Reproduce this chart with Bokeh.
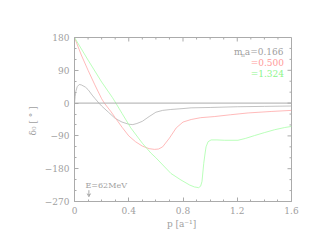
from bokeh.plotting import figure
from bokeh.models import Range1d, FixedTicker, Span, Arrow, VeeHead
from bokeh.core.properties import value
from bokeh.embed import file_html
from bokeh.resources import INLINE

# momentum p [1/a]
p_gray = [0, 0.005, 0.01, 0.02, 0.035, 0.05, 0.08, 0.1, 0.13, 0.15, 0.18, 0.2, 0.25, 0.3, 0.35, 0.4, 0.43, 0.46, 0.5, 0.55, 0.6, 0.65, 0.71, 0.8, 0.86, 1.0, 1.2, 1.4, 1.6]
d_gray = [0, 18, 32, 45, 51, 50, 44, 37, 22, 13, 0, -8, -25, -42, -52, -58, -59, -56, -50, -37, -25, -20, -17.5, -15, -13, -12, -10, -9, -8]

p_red = [0, 0.05, 0.1, 0.15, 0.2, 0.22, 0.27, 0.3, 0.35, 0.4, 0.45, 0.5, 0.55, 0.59, 0.62, 0.65, 0.7, 0.75, 0.8, 0.86, 0.93, 1.03, 1.15, 1.28, 1.45, 1.6]
d_red = [180, 132, 90, 50, 12, 0, -24, -40, -66, -90, -106, -118, -125, -127, -126, -120, -96, -68, -52, -45, -40, -37, -32, -27, -23, -20]

p_green = [0, 0.1, 0.2, 0.28, 0.3, 0.35, 0.415, 0.5, 0.563, 0.6, 0.711, 0.785, 0.85, 0.884, 0.915, 0.93, 0.94, 0.953, 0.962, 0.97, 0.985, 1.007, 1.05, 1.106, 1.205, 1.26, 1.328, 1.4, 1.476, 1.55, 1.6]
d_green = [180, 118, 58, 15, 3, -28, -68, -110, -137, -150, -193, -211, -225, -230, -232, -228, -215, -165, -140, -120, -106, -101, -101, -102, -102, -97, -89, -81, -73, -67, -64]

x_major = [0.0, 0.4, 0.8, 1.2, 1.6]
x_minor = [0.1, 0.2, 0.3, 0.5, 0.6, 0.7, 0.9, 1.0, 1.1, 1.3, 1.4, 1.5]
y_major = [-270, -180, -90, 0, 90, 180]
y_minor = [-240, -210, -150, -120, -60, -30, 30, 60, 120, 150]

GRAY = "#ababab"
CGRAY = "#b4b4b4"
RED = "#ffa8a8"
GREEN = "#a8ffa8"
TGRAY = "#a0a0a0"
TRED = "#ff9a9a"
TGREEN = "#8cf58c"
FONT = "DejaVu Serif"

X0, X1, Y0, Y1 = 0.0, 1.6, -270, 180
FW, FH = 217, 164  # frame size in px

p = figure(width=314, height=241, output_backend="svg", toolbar_location=None,
           x_range=Range1d(X0, X1), y_range=Range1d(Y0, Y1),
           min_border_left=74, min_border_right=23, min_border_top=37, min_border_bottom=40)
p.xgrid.visible = False
p.ygrid.visible = False
p.outline_line_color = GRAY
p.background_fill_color = "white"
p.border_fill_color = "white"

for ax in p.xaxis + p.yaxis:
    ax.axis_line_color = GRAY
    ax.major_tick_line_color = GRAY
    ax.minor_tick_line_color = GRAY
    ax.major_tick_in = 4
    ax.major_tick_out = 0
    ax.minor_tick_in = 2
    ax.minor_tick_out = 0
    ax.major_label_text_color = TGRAY
    ax.major_label_text_font = FONT
    ax.major_label_text_font_size = "9px"
    ax.axis_label_text_color = TGRAY
    ax.axis_label_text_font = FONT
    ax.axis_label_text_font_size = "9px"
    ax.axis_label_text_font_style = "normal"

p.xaxis.ticker = FixedTicker(ticks=x_major, minor_ticks=x_minor)
p.yaxis.ticker = FixedTicker(ticks=y_major, minor_ticks=y_minor)
p.xaxis.axis_label = "p  [a\u207b\u00b9]"
p.yaxis.axis_label = "\u03b4\u2080  [ \u00b0 ]"
p.xaxis.major_label_standoff = 5
p.yaxis.major_label_standoff = 5
p.xaxis.axis_label_standoff = 2
p.yaxis.axis_label_standoff = 4

# inward ticks on the top and right frame edges, built from the tick lists
dy_maj = 4 * (Y1 - Y0) / FH
dy_min = 2 * (Y1 - Y0) / FH
dx_maj = 4 * (X1 - X0) / FW
dx_min = 2 * (X1 - X0) / FW
p.segment(x0=x_major, y0=[Y1] * len(x_major), x1=x_major, y1=[Y1 - dy_maj] * len(x_major),
          line_color=GRAY, line_width=1)
p.segment(x0=x_minor, y0=[Y1] * len(x_minor), x1=x_minor, y1=[Y1 - dy_min] * len(x_minor),
          line_color=GRAY, line_width=1)
p.segment(x0=[X1] * len(y_major), y0=y_major, x1=[X1 - dx_maj] * len(y_major), y1=y_major,
          line_color=GRAY, line_width=1)
p.segment(x0=[X1] * len(y_minor), y0=y_minor, x1=[X1 - dx_min] * len(y_minor), y1=y_minor,
          line_color=GRAY, line_width=1)

p.add_layout(Span(location=0, dimension="width", line_color=GRAY, line_width=1))

p.line(p_gray, d_gray, line_color=CGRAY, line_width=0.8)
p.line(p_red, d_red, line_color=RED, line_width=0.8)
p.line(p_green, d_green, line_color=GREEN, line_width=0.8)

# legend texts
tf = value(FONT)
p.text(x=[1.176], y=[139], text=["m"], text_color=TGRAY, text_font=tf, text_font_size="9px",
       text_align="left", text_baseline="middle")
p.text(x=[1.228], y=[133], text=["\u03c0"], text_color=TGRAY, text_font=tf, text_font_size="6px",
       text_align="left", text_baseline="middle")
p.text(x=[1.256], y=[139], text=["a=0.166"], text_color=TGRAY, text_font=tf, text_font_size="9px",
       text_align="left", text_baseline="middle")
p.text(x=[1.299], y=[111], text=["=0.500"], text_color=TRED, text_font=tf, text_font_size="9px",
       text_align="left", text_baseline="middle")
p.text(x=[1.299], y=[81], text=["=1.324"], text_color=TGREEN, text_font=tf, text_font_size="9px",
       text_align="left", text_baseline="middle")

p.text(x=[0.081], y=[-226], text=["E=62MeV"], text_color=TGRAY, text_font=tf, text_font_size="8px",
       text_align="left", text_baseline="middle")
p.add_layout(Arrow(x_start=0.106, y_start=-239, x_end=0.106, y_end=-257,
                   line_color=GRAY, line_width=1,
                   end=VeeHead(size=3, line_color=GRAY, line_width=1, fill_color=None)))

open("out.html", "w").write(file_html(p, INLINE))
